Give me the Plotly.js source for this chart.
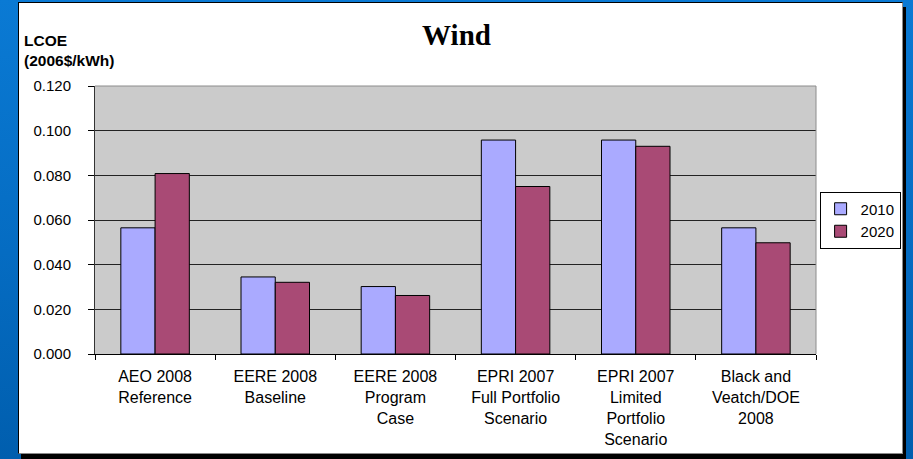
<!DOCTYPE html>
<html>
<head>
<meta charset="utf-8">
<script src="https://cdn.plot.ly/plotly-3.0.1.min.js"></script>
<style>
  html, body { margin: 0; padding: 0; }
  body {
    width: 913px; height: 459px; overflow: hidden; position: relative;
    background: linear-gradient(to bottom, #0a7ad4 0%, #056cc2 55%, #005eae 100%);
  }
  #frame {
    position: absolute; left: 18px; top: 2px; width: 885px; height: 452px;
    box-sizing: border-box; background: #ffffff;
    border-top: 1px solid #000; border-left: 1px solid #000;
    border-right: 1px solid #8a8a8a; border-bottom: 1px solid #8a8a8a;
    box-shadow: 3px 5px 0 #000;
  }
  #chart { position: absolute; left: 0; top: 0; width: 913px; height: 459px; }
</style>
</head>
<body>
<div id="frame"></div>
<div id="chart"></div>
<script>
// Levelized cost of wind power by study, 2010 vs 2020
const categories = [
  'AEO 2008<br>Reference',
  'EERE 2008<br>Baseline',
  'EERE 2008<br>Program<br>Case',
  'EPRI 2007<br>Full Portfolio<br>Scenario',
  'EPRI 2007<br>Limited<br>Portfolio<br>Scenario',
  'Black and<br>Veatch/DOE<br>2008'
];
const series2010 = [0.0565, 0.0345, 0.0302, 0.0958, 0.0958, 0.0565];
const series2020 = [0.0808, 0.0321, 0.0262, 0.0750, 0.0930, 0.0498];
const seriesNames = ['2010', '2020'];
const yTicks = [0, 0.02, 0.04, 0.06, 0.08, 0.10, 0.12];

const barLine = { color: '#000000', width: 1 };

const traces = [
  { type: 'bar', name: seriesNames[0], x: categories, y: series2010,
    marker: { color: '#aaaaff', line: barLine }, hoverinfo: 'y' },
  { type: 'bar', name: seriesNames[1], x: categories, y: series2020,
    marker: { color: '#a94a75', line: barLine }, hoverinfo: 'y' }
];

const layout = {
  width: 913, height: 459,
  margin: { l: 95, r: 95, t: 86, b: 105, pad: 0 },
  paper_bgcolor: 'rgba(0,0,0,0)',
  plot_bgcolor: '#cbcbcb',
  font: { family: 'Liberation Sans, Arial, sans-serif', color: '#000' },
  barmode: 'group',
  bargap: 0.43,
  bargroupgap: 0,
  showlegend: true,
  title: {
    text: '<b>Wind</b>',
    font: { family: 'Liberation Serif, Times New Roman, serif', size: 29, color: '#000' },
    x: 0.5, xanchor: 'center', y: 0.924, yanchor: 'middle'
  },
  xaxis: {
    type: 'category',
    showline: true, linecolor: '#000', linewidth: 1,
    ticks: 'outside', tickson: 'boundaries', ticklen: 5, tickcolor: '#000', tickwidth: 1,
    tickfont: { size: 16, color: '#000' },
    ticklabelstandoff: 8,
    showgrid: false, zeroline: false, fixedrange: true
  },
  yaxis: {
    range: [0, 0.12], tickvals: yTicks, tickformat: '.3f',
    showline: true, linecolor: '#333', linewidth: 1,
    ticks: 'outside', ticklen: 6, tickcolor: '#000', tickwidth: 1,
    tickfont: { size: 15, color: '#000' },
    ticklabelstandoff: 14,
    showgrid: true, gridcolor: '#222', gridwidth: 1,
    zeroline: false, fixedrange: true
  },
  legend: {
    x: 1.005, xanchor: 'left', y: 0.5, yanchor: 'middle',
    bgcolor: '#ffffff', bordercolor: '#000', borderwidth: 1,
    font: { size: 15, color: '#000' },
    traceorder: 'normal'
  },
  annotations: [{
    xref: 'paper', yref: 'paper',
    x: -0.101, y: 1.131, xanchor: 'left', yanchor: 'middle', align: 'left',
    text: '<b>LCOE<br>(2006$/kWh)</b>', showarrow: false,
    font: { size: 15.5, color: '#000' }
  }],
  shapes: [
    // plot-area frame: top and right edges in grey
    { type: 'line', xref: 'paper', yref: 'paper', x0: 0, x1: 1, y0: 1, y1: 1,
      line: { color: '#8c8c8c', width: 1 }, layer: 'above' },
    { type: 'line', xref: 'paper', yref: 'paper', x0: 1, x1: 1, y0: 0, y1: 1,
      line: { color: '#8c8c8c', width: 1 }, layer: 'above' }
  ]
};

Plotly.newPlot('chart', traces, layout, { displayModeBar: false, staticPlot: true });
</script>
</body>
</html>
